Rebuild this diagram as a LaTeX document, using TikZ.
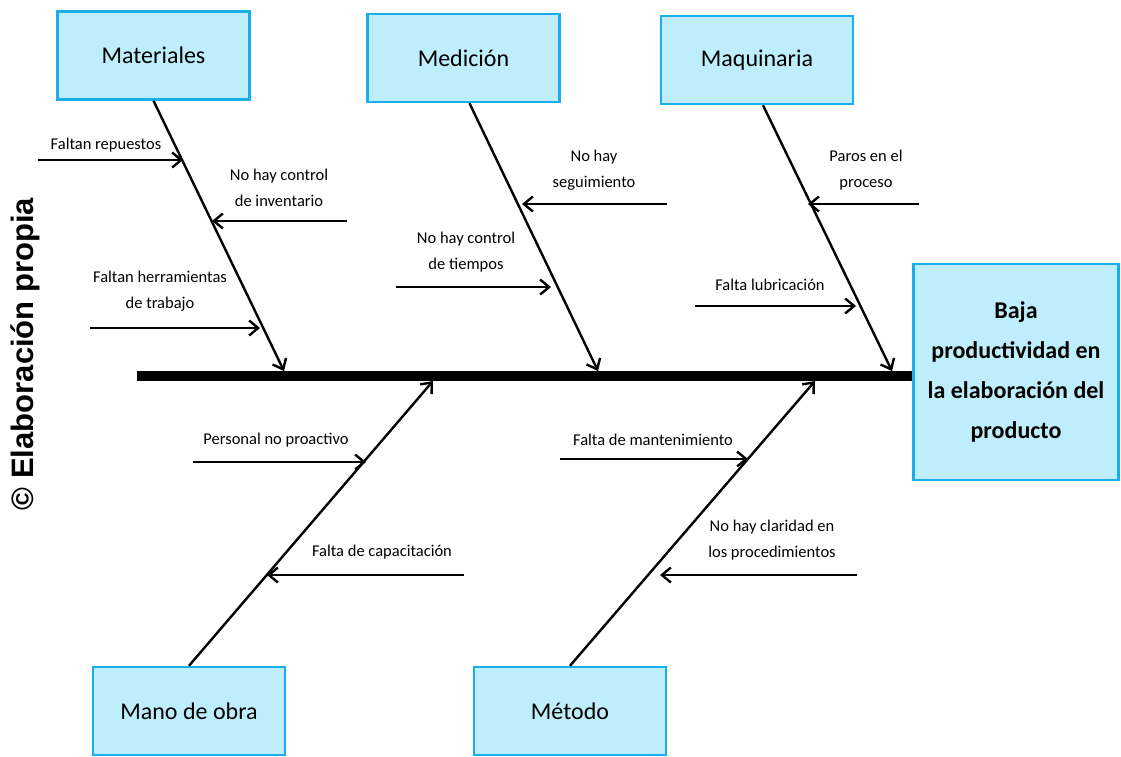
\documentclass[tikz,border=0pt]{standalone}
\usepackage{fontspec}
\setmainfont{Carlito}
\newfontfamily\credfont{Liberation Sans}
\usetikzlibrary{arrows.meta}
\definecolor{boxfill}{RGB}{190,238,252}
\definecolor{boxline}{RGB}{28,174,233}

\begin{document}
\begin{tikzpicture}[x=1pt, y=-1pt]
\tikzset{
    cause/.style = {draw=boxline, fill=boxfill, line width=2.5pt, rectangle,
                    minimum width=192pt, minimum height=88pt,
                    font=\fontsize{24}{28}\selectfont},
    effect/.style = {cause, minimum width=205pt, minimum height=216pt, align=center,
                     font=\bfseries\fontsize{24}{40}\selectfont},
    note/.style = {inner sep=0pt, align=center, font=\fontsize{16.5}{26}\selectfont},
    every path/.style = {line width=2.4pt, >={Straight Barb[length=9pt,width=15pt]}},
    spine/.style = {line width=10pt}
}
\useasboundingbox (0,0) rectangle (1121,756);

% -------------------------------------------------------
\node[cause] (mat) at (153.5,55.5) {Materiales};
\node[cause] (med) at (463.5,58) {Medición};
\node[cause] (maq) at (757,60) {Maquinaria};
\node[cause] (mano) at (189,711) {Mano de obra};
\node[cause] (met) at (570,711) {Método};

\node[effect] (eff) at (1016,372) {
    Baja \\
    productividad en \\
    la elaboración del \\
    producto
};

\node[rotate=90, font=\credfont\bfseries\fontsize{31}{36}\selectfont] (cred) at (25,354) {© Elaboración propia};

% spine and ends of the bones
\coordinate (tail) at (137,376);
\coordinate (s1) at (284,371);
\coordinate (s2) at (598,371);
\coordinate (s3) at (892,371);
\coordinate (s4) at (433,381);
\coordinate (s5) at (815,381);

% -------------------------------------------------------
% labels of the causes
\node[note] (n1) at (106,145) {Faltan repuestos};
\node[note] (n2) at (279,188) {No hay control \\ de inventario};
\node[note] (n3) at (160,291) {Faltan herramientas \\ de trabajo};
\node[note] (n4) at (594,170) {No hay \\ seguimiento};
\node[note] (n5) at (466,252) {No hay control \\ de tiempos};
\node[note] (n6) at (866,170) {Paros en el \\ proceso};
\node[note] (n7) at (770,285) {Falta lubricación};
\node[note] (n8) at (276,440) {Personal no proactivo};
\node[note] (n9) at (382,552) {Falta de capacitación};
\node[note] (n10) at (653,440) {Falta de mantenimiento};
\node[note] (n11) at (772,540) {No hay claridad en \\ los procedimientos};

% start and end of the small arrows
\coordinate (a1) at (38,160);   \coordinate (b1) at (183,160);
\coordinate (a2) at (347,221);  \coordinate (b2) at (212,221);
\coordinate (a3) at (90,328);   \coordinate (b3) at (260,328);
\coordinate (a4) at (667,204);  \coordinate (b4) at (522,204);
\coordinate (a5) at (396,287);  \coordinate (b5) at (551,287);
\coordinate (a6) at (919,204);  \coordinate (b6) at (808,204);
\coordinate (a7) at (695,306);  \coordinate (b7) at (856,306);
\coordinate (a8) at (193,462);  \coordinate (b8) at (366,462);
\coordinate (a9) at (464,575);  \coordinate (b9) at (267,575);
\coordinate (a10) at (560,459); \coordinate (b10) at (748,459);
\coordinate (a11) at (857,575); \coordinate (b11) at (660,575);

% -------------------------------------------------------
\draw[spine] (tail) -- (tail -| eff.west);

\draw[->] (mat.south) -- (s1);
\draw[->] ([xshift=6pt]med.south) -- (s2);
\draw[->] ([xshift=6pt]maq.south) -- (s3);
\draw[->] (mano.north) -- (s4);
\draw[->] (met.north) -- (s5);

\foreach \i in {1,...,11}
    \draw[->] (a\i) -- (b\i);
\end{tikzpicture}
\end{document}
